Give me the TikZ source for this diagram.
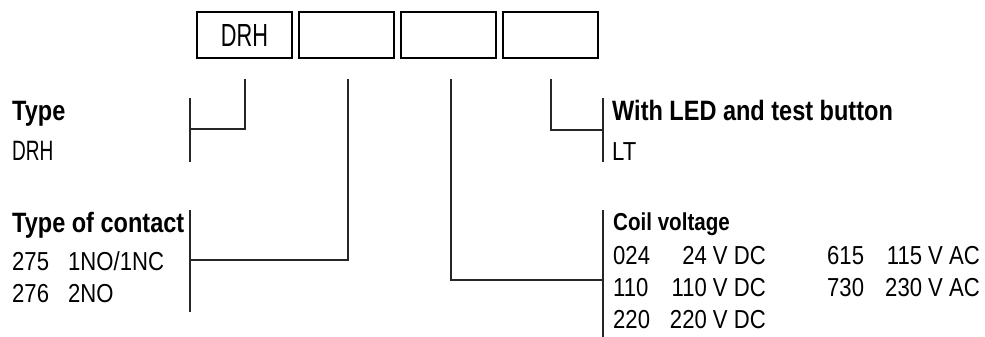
\documentclass[tikz,border=0pt]{standalone}
\usepackage{fontspec}
\setmainfont{Liberation Sans}[FakeStretch=0.85]
\newfontfamily\headfont{Liberation Sans}[FakeStretch=0.84]
\newfontfamily\drhfont{Liberation Sans}[FakeStretch=0.68]
\begin{document}
\begin{tikzpicture}[x=1pt,y=-1pt,
  codebox/.style={draw=black, line width=2pt, minimum width=95pt, minimum height=46pt, inner sep=0pt,
    font=\drhfont\fontsize{32}{32}\selectfont},
  head/.style={anchor=base west, inner sep=0pt, font=\headfont\bfseries\fontsize{28}{28}\selectfont},
  subhead/.style={anchor=base west, inner sep=0pt, font=\headfont\bfseries\fontsize{24.5}{24.5}\selectfont},
  txt/.style={anchor=base west, inner sep=0pt, font=\fontsize{26}{26}\selectfont},
  txtr/.style={anchor=base east, inner sep=0pt, font=\fontsize{26}{26}\selectfont},
  drhtxt/.style={anchor=base west, inner sep=0pt, font=\drhfont\fontsize{28}{28}\selectfont},
  conn/.style={line width=1.3pt, draw=black!85}]
\useasboundingbox (0,0) rectangle (985,337);

% code boxes
\node[codebox] (b1) at (244.5,35) {DRH};
\node[codebox] (b2) at (346.5,35) {};
\node[codebox] (b3) at (448.5,35) {};
\node[codebox] (b4) at (550.5,35) {};

% connector starts (below the boxes)
\coordinate (s1) at (245,79);
\coordinate (s2) at (348,79);
\coordinate (s3) at (451,79);
\coordinate (s4) at (551,79);

% bracket junctions
\coordinate (t1) at (190,129);
\coordinate (t2) at (190,260);
\coordinate (t3) at (603,280);
\coordinate (t4) at (603,130);

% bracket ends
\coordinate (k1a) at (190,98);  \coordinate (k1b) at (190,162);
\coordinate (k2a) at (190,210); \coordinate (k2b) at (190,312);
\coordinate (k3a) at (603,210); \coordinate (k3b) at (603,337);
\coordinate (k4a) at (603,98);  \coordinate (k4b) at (603,162);

% connectors
\draw[conn] (s1) |- (t1);
\draw[conn] (s2) |- (t2);
\draw[conn] (s3) |- (t3);
\draw[conn] (s4) |- (t4);

% brackets
\draw[conn] (k1a) -- (k1b);
\draw[conn] (k2a) -- (k2b);
\draw[conn] (k3a) -- (k3b);
\draw[conn] (k4a) -- (k4b);

% left texts
\node[head] (type) at (12,120) {Type};
\node[drhtxt] (typeval) at (12,160) {DRH};
\node[head] (contact) at (12,232) {Type of contact};
\node[txt] (c275) at (12,270) {275};
\node[txt] (c275v) at (68,270) {1NO/1NC};
\node[txt] (c276) at (12,302) {276};
\node[txt] (c276v) at (68,302) {2NO};

% right texts
\node[head] (led) at (612,120) {With LED and test button};
\node[txt] (ledval) at (612,160) {LT};
\node[subhead] (coil) at (613,230) {Coil voltage};
\node[txt] (v024) at (613,264) {024};
\node[txtr] (v024v) at (766,264) {24 V DC};
\node[txt] (v110) at (613,296) {110};
\node[txtr] (v110v) at (766,296) {110 V DC};
\node[txt] (v220) at (613,328) {220};
\node[txtr] (v220v) at (766,328) {220 V DC};
\node[txt] (v615) at (827,264) {615};
\node[txtr] (v615v) at (980,264) {115 V AC};
\node[txt] (v730) at (827,296) {730};
\node[txtr] (v730v) at (980,296) {230 V AC};
\end{tikzpicture}
\end{document}
